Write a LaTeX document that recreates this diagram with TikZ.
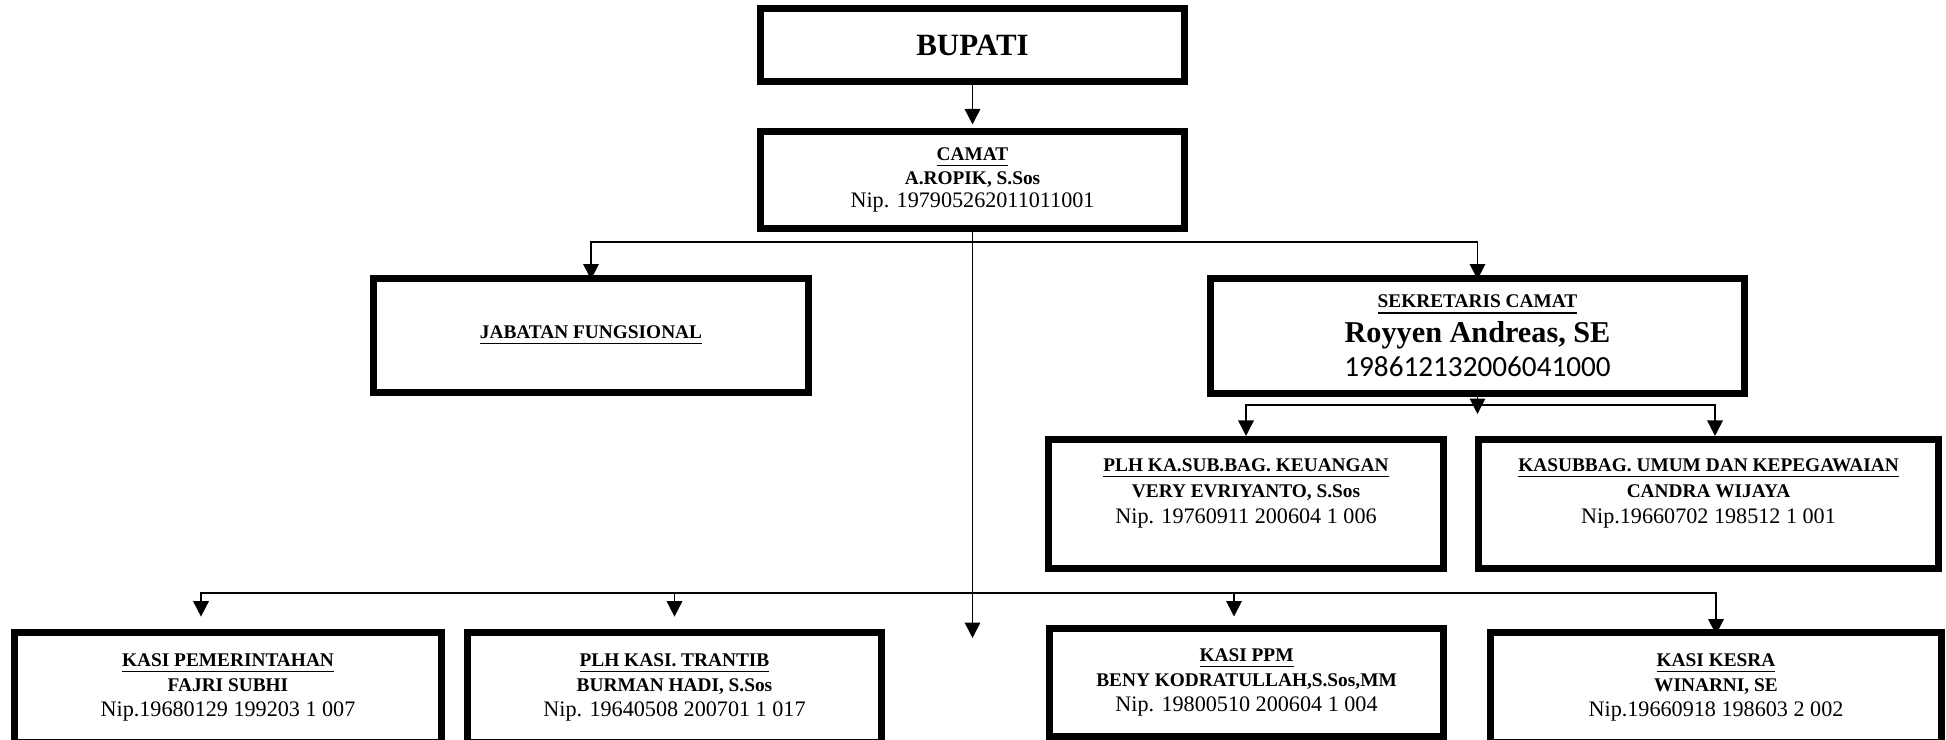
\documentclass[tikz,border=0pt]{standalone}
\usepackage{fontspec}
\setmainfont{Liberation Serif}
\newfontfamily\angka{Carlito}
\usetikzlibrary{arrows.meta}
\newcommand{\nip}{\fontsize{6.3}{7.1}\selectfont}
\newcommand{\jdl}[1]{\underline{\textbf{#1}}}

\begin{document}
\begin{tikzpicture}[x=0.01cm,y=-0.01cm]
\tikzstyle{kotak}=[draw,line width=2pt,inner sep=0pt,align=center,font=\fontsize{5.5}{7.1}\selectfont]
\tikzstyle{panah}=[line width=0.5pt,-{Triangle[width=4.4pt,length=4.4pt]}]
\useasboundingbox (0,0) rectangle (1946,740);
% atas
\node[kotak,minimum width=4.24cm,minimum height=0.73cm,font=\fontsize{8.8}{10}\selectfont\bfseries](bupati) at (972.5,45) {BUPATI};
\node[kotak,minimum width=4.24cm,minimum height=0.97cm,font=\fontsize{5.5}{6.8}\selectfont](camat) at (972.5,180) {\jdl{CAMAT}\\\textbf{A.ROPIK, S.Sos}\\{\nip Nip. 197905262011011001}};
\node[kotak,minimum width=4.35cm,minimum height=1.14cm](jabfung) at (591,335.5) {\jdl{JABATAN FUNGSIONAL}};
\node[kotak,minimum width=5.34cm,minimum height=1.15cm,font=\fontsize{5.5}{9.8}\selectfont](sekcam) at (1477.5,336) {\jdl{SEKRETARIS CAMAT}\\{\fontsize{8.6}{9.8}\selectfont\bfseries Royyen Andreas, SE}\\{\angka\fontsize{8.3}{9.8}\selectfont 198612132006041000}};
% subbag
\node[kotak,minimum width=3.95cm,minimum height=1.29cm,text depth=7.5pt,font=\fontsize{5.5}{7.4}\selectfont](keuangan) at (1246,504) {\jdl{PLH KA.SUB.BAG. KEUANGAN}\\\textbf{VERY EVRIYANTO, S.Sos}\\{\nip Nip. 19760911 200604 1 006}};
\node[kotak,minimum width=4.60cm,minimum height=1.29cm,text depth=7.5pt,font=\fontsize{5.5}{7.4}\selectfont](umum) at (1708.5,504) {\jdl{KASUBBAG. UMUM DAN KEPEGAWAIAN}\\\textbf{CANDRA WIJAYA}\\{\nip Nip.19660702 198512 1 001}};
% seksi
\node[kotak,minimum width=4.27cm,minimum height=1.10cm](pemerintahan) at (228,687.5) {\jdl{KASI PEMERINTAHAN}\\\textbf{FAJRI SUBHI}\\{\nip Nip.19680129 199203 1 007}};
\node[kotak,minimum width=4.14cm,minimum height=1.10cm](trantib) at (674.5,687.5) {\jdl{PLH KASI. TRANTIB}\\\textbf{BURMAN HADI, S.Sos}\\{\nip Nip. 19640508 200701 1 017}};
\node[kotak,minimum width=3.94cm,minimum height=1.08cm](ppm) at (1246.5,682.5) {\jdl{KASI PPM}\\\textbf{BENY KODRATULLAH,S.Sos,MM}\\{\nip Nip. 19800510 200604 1 004}};
\node[kotak,minimum width=4.51cm,minimum height=1.10cm](kesra) at (1716,687.5) {\jdl{KASI KESRA}\\\textbf{WINARNI, SE}\\{\nip Nip.19660918 198603 2 002}};
% garis
\coordinate (cabang1) at (972.5,242);
\coordinate (cabang2) at (972.5,593);
\coordinate (ujung) at (972.5,638);
\coordinate (cabang3) at (1477.5,405);
\coordinate (ujung2) at (1477.5,414);
\draw[panah,shorten >=1pt] (bupati.south) -- (camat.north);
\draw[panah] (camat.south) -- (ujung);
\draw[panah,shorten >=-1.3pt] (cabang1) -| (jabfung.north);
\draw[panah,shorten >=-1.3pt] (cabang1) -| (sekcam.north);
\draw[panah] (sekcam.south) -- (ujung2);
\draw[panah] (cabang3) -| (keuangan.north);
\draw[panah] (cabang3) -| ([xshift=0.065cm]umum.north);
\draw[panah,shorten >=3.5pt] (cabang2) -| ([xshift=-0.27cm]pemerintahan.north);
\draw[panah,shorten >=3.5pt] (cabang2) -| (trantib.north);
\draw[panah,shorten >=2.4pt] (cabang2) -| ([xshift=-0.125cm]ppm.north);
\draw[panah,shorten >=-1.6pt] (cabang2) -| (kesra.north);
\end{tikzpicture}
\end{document}
